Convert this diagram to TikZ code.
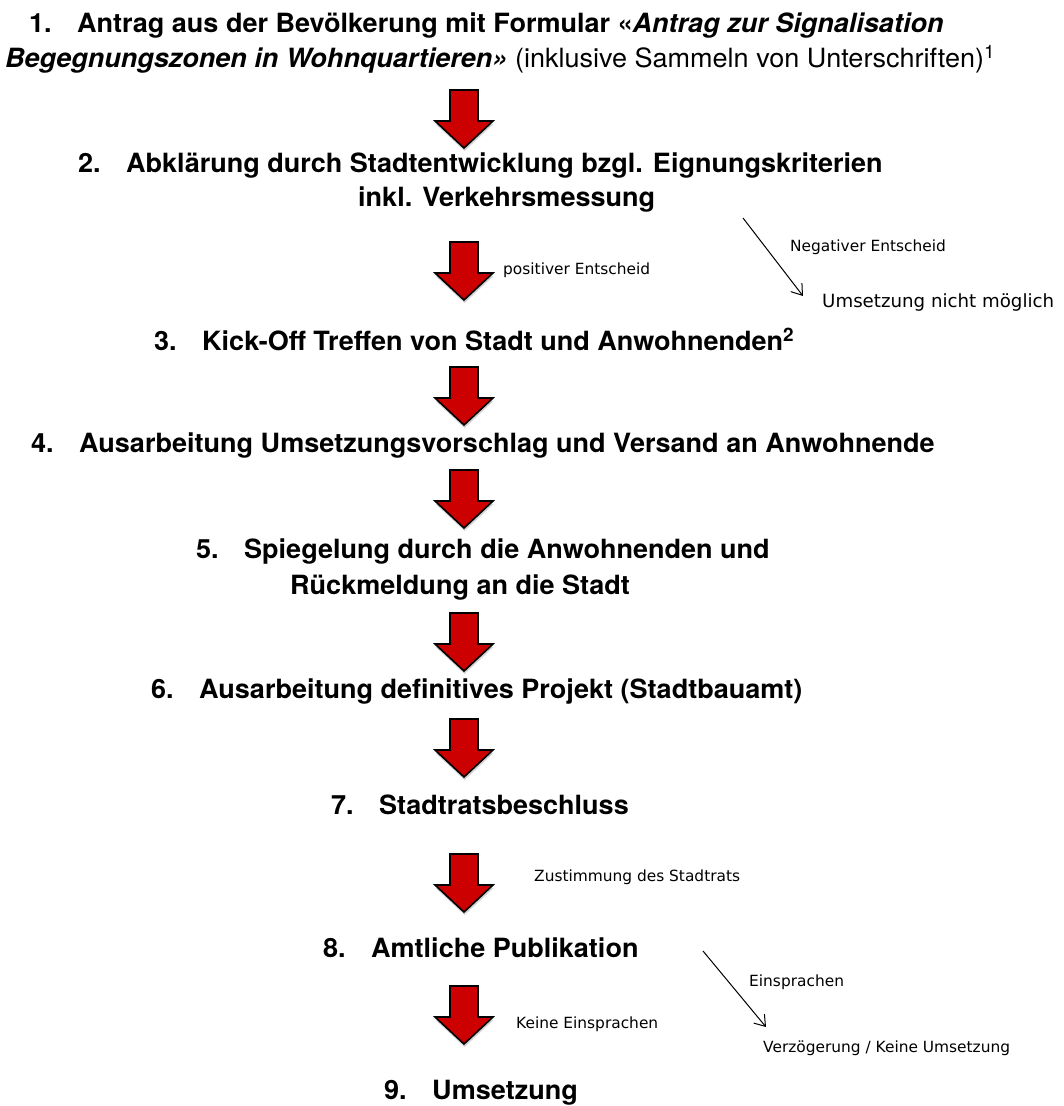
\documentclass[tikz,border=0pt]{standalone}
\usepackage{fontspec}
\setmainfont{TeX Gyre Heros}[FakeStretch=1.02]
\newfontfamily\labfont{DejaVu Sans}
\usetikzlibrary{arrows.meta,shadows}
\definecolor{arrred}{HTML}{CC0000}
\tikzset{
 stepbox/.style={anchor=west, inner sep=0pt, font=\fontsize{26.5}{30}\selectfont\bfseries},
 smalllab/.style={anchor=west, inner sep=0pt, font=\labfont\fontsize{15.4}{18}\selectfont},
 biglab/.style={anchor=west, inner sep=0pt, font=\labfont\fontsize{18.2}{21}\selectfont},
 thinarrow/.style={-{Straight Barb[length=10pt,width=14pt]}, line width=1pt},
 redarrow/.style={fill=arrred, draw=black, line width=1.6pt, line join=miter,
   drop shadow={shadow xshift=0.5pt, shadow yshift=-3pt, opacity=0.35}}
}
\newcommand\numbox[1]{\makebox[48pt][l]{#1}}
\newcommand\blockarrow[1]{%
  \path[redarrow] (450,#1) -- ++(28,0) -- ++(0,31) -- ++(15,0) -- (464,#1+58) -- (435,#1+31) -- ++(15,0) -- cycle;
}
\begin{document}
\begin{tikzpicture}[x=1pt,y=-1pt]
\fill[white] (0,0) rectangle (1064,1106);
\useasboundingbox (0,0) rectangle (1064,1106);

\node[stepbox] (s1a) at (29,26) {\numbox{1.}Antrag aus der Bevölkerung mit Formular «\textit{Antrag zur Signalisation}};
\node[stepbox] (s1b) at (5,59) {\textit{Begegnungszonen in Wohnquartieren»}\mdseries{} (inklusive Sammeln von Unterschriften)\textsuperscript{1}};
\node[stepbox] (s2a) at (78,166) {\numbox{2.}Abklärung durch Stadtentwicklung bzgl. Eignungskriterien};
\node[stepbox] (s2b) at (358,200) {inkl. Verkehrsmessung};
\node[stepbox] (s3) at (154,339) {\numbox{3.}Kick-Off Treffen von Stadt und Anwohnenden\textsuperscript{2}};
\node[stepbox] (s4) at (31,446) {\numbox{4.}Ausarbeitung Umsetzungsvorschlag und Versand an Anwohnende};
\node[stepbox] (s5a) at (196,552) {\numbox{5.}Spiegelung durch die Anwohnenden und};
\node[stepbox] (s5b) at (290,588) {Rückmeldung an die Stadt};
\node[stepbox] (s6) at (151,692) {\numbox{6.}Ausarbeitung definitives Projekt (Stadtbauamt)};
\node[stepbox] (s7) at (331,805) {\numbox{7.}Stadtratsbeschluss};
\node[stepbox] (s8) at (323,948) {\numbox{8.}Amtliche Publikation};
\node[stepbox] (s9) at (384,1093) {\numbox{9.}Umsetzung};

\blockarrow{90}
\blockarrow{242}
\blockarrow{367}
\blockarrow{470}
\blockarrow{613}
\blockarrow{719}
\blockarrow{854}
\blockarrow{986}

\node[smalllab] (pos) at (503,270) {positiver Entscheid};
\node[smalllab] (neg) at (790,247) {Negativer Entscheid};
\node[biglab] (nicht) at (822,302) {Umsetzung nicht möglich};
\node[smalllab] (zust) at (534,877) {Zustimmung des Stadtrats};
\node[smalllab] (einspr) at (749,982) {Einsprachen};
\node[smalllab] (keine) at (516,1024) {Keine Einsprachen};
\node[smalllab] (verz) at (763,1048) {Verzögerung / Keine Umsetzung};

\coordinate (n1) at (743,218);
\coordinate (n2) at (803,296);
\coordinate (e1) at (703,951);
\coordinate (e2) at (766,1027);
\draw[thinarrow] (n1) -- (n2);
\draw[thinarrow] (e1) -- (e2);
\end{tikzpicture}
\end{document}
